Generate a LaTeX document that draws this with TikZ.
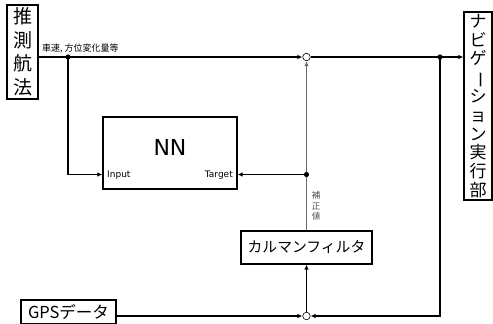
\documentclass[tikz,border=0pt]{standalone}
\usepackage{fontspec}
\setmainfont{DejaVu Sans}
\newfontfamily\jp{Noto Sans CJK JP}
\usetikzlibrary{arrows.meta}
\begin{document}
\begin{tikzpicture}[x=1pt,y=-1pt,
  box/.style={draw,line width=1.2pt,inner sep=0pt,fill=white},
  conn/.style={line width=1.4pt},
  arr/.style={conn,-{Latex[length=5pt,width=4.5pt]}},
  grayarr/.style={line width=0.9pt,draw=gray!85!black,-{Latex[length=5pt,width=4.5pt]}},
  sumc/.style={circle,draw,line width=0.6pt,fill=white,inner sep=0pt,minimum size=7.5pt}]
\useasboundingbox (0,0) rectangle (493,324);
% blocks
\node[box,minimum width=31pt,minimum height=94pt,align=center,
      font=\jp\fontsize{19}{23.5}\selectfont] (dr) at (22.5,52) {推\\測\\航\\法};
\node[box,minimum width=28pt,minimum height=188pt,align=center,
      font=\jp\fontsize{17}{18.8}\selectfont] (nav) at (478,106)
      {ナ\\ビ\\ゲ\\\rotatebox[origin=c]{-90}{ー}\\シ\\ョ\\ン\\実\\行\\部};
\node[box,minimum width=134pt,minimum height=72pt] (nn) at (170,153) {};
\node[font=\fontsize{22}{26}\selectfont,inner sep=0pt] (nntitle) at (170,147) {NN};
\node[anchor=west,font=\fontsize{9}{11}\selectfont,inner sep=0pt] (inp) at (107,175) {Input};
\node[anchor=east,font=\fontsize{9}{11}\selectfont,inner sep=0pt] (tgt) at (233,175) {Target};
\node[box,minimum width=131pt,minimum height=33pt,
      font=\jp\fontsize{14.8}{17}\selectfont] (kal) at (306.5,247.5) {カルマンフィルタ};
\node[box,minimum width=95pt,minimum height=24pt,
      font=\jp\fontsize{16.5}{18}\selectfont] (gps) at (68.5,312) {GPSデータ};
% junctions
\node[sumc] (c1) at (306.5,57) {};
\node[sumc] (c2) at (306.5,316) {};
\coordinate (dot1) at (68,57);
\coordinate (dot2) at (440,57);
\coordinate (dot3) at (306.5,174.5);
% labels
\node[font=\jp\fontsize{9}{10}\selectfont,anchor=south west,inner sep=0pt] (lbl1) at (42,53) {車速, 方位変化量等};
\node[font=\jp\fontsize{8.5}{10.7}\selectfont,align=center,text=gray!60!black,inner sep=0pt] (lbl2) at (316,206) {補\\正\\値};
% connectors
\draw[arr] (dr.east |- c1) -- (c1);
\draw[arr] (c1) -- (nav.west |- c1);
\draw[arr] (dot1) |- (nn.west |- dot3);
\draw[grayarr] (kal.north) -- (c1);
\draw[arr] (dot3) -- (nn.east |- dot3);
\draw[arr] (dot2) |- (c2);
\draw[arr] (gps.east |- c2) -- (c2);
\draw[arr] (c2) -- (kal.south);
% dots
\fill (dot1) circle (2.6pt);
\fill (dot2) circle (2.6pt);
\fill (dot3) circle (2.6pt);
\end{tikzpicture}
\end{document}
